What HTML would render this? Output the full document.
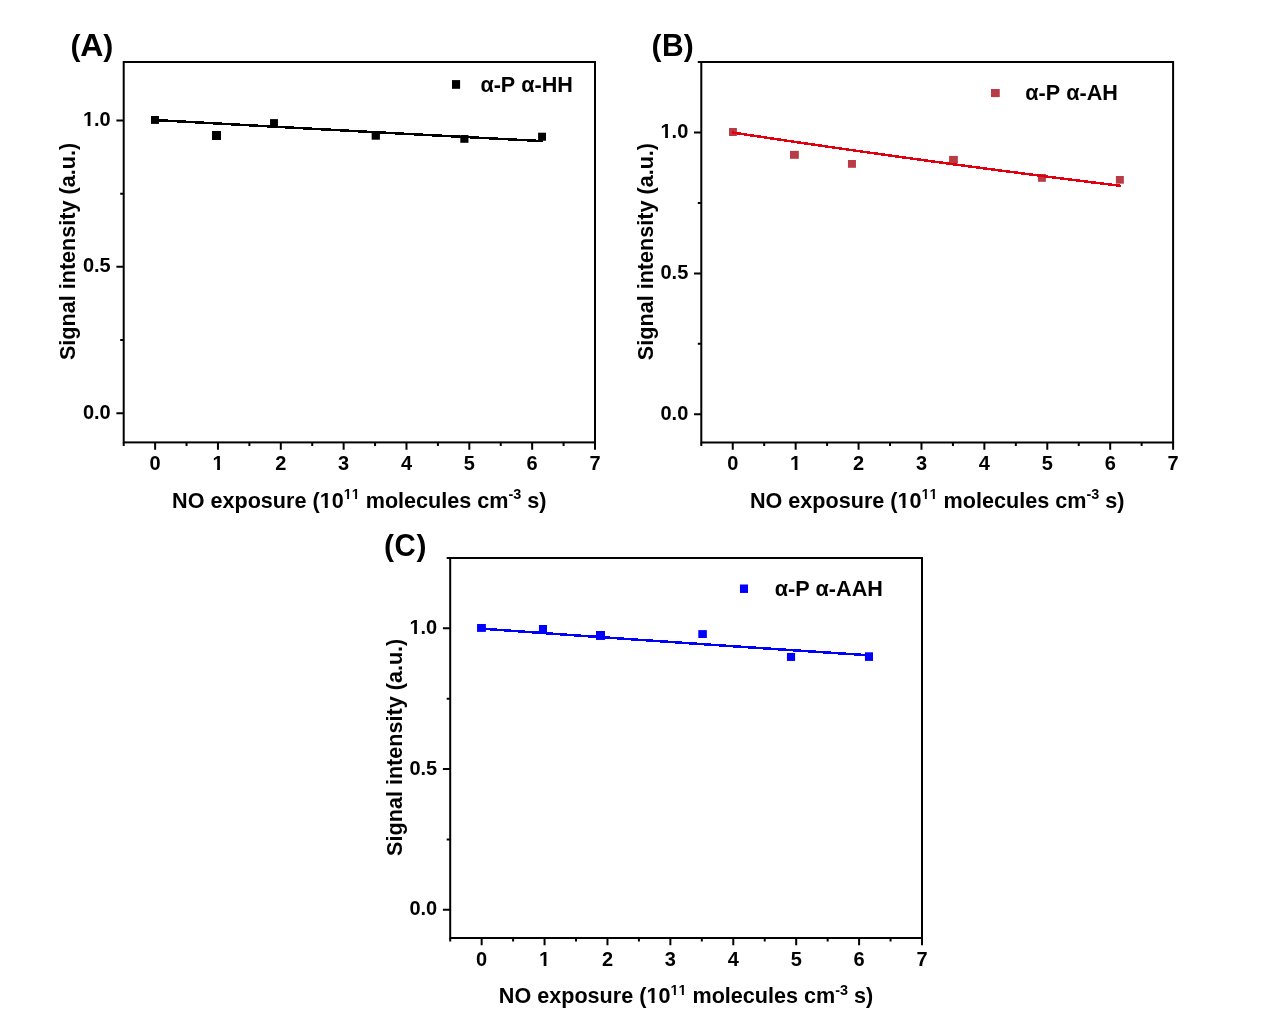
<!DOCTYPE html>
<html><head><meta charset="utf-8"><title>Signal intensity vs NO exposure</title>
<style>
html,body{margin:0;padding:0;background:#fff;}
svg{display:block;will-change:transform;}
text{font-family:"Liberation Sans", Arial, sans-serif;font-weight:bold;fill:#000;font-kerning:none;}
</style></head><body>
<svg width="1270" height="1028" viewBox="0 0 1270 1028">
<rect width="1270" height="1028" fill="#fff"/>
<g><rect x="123.7" y="62" width="471.3" height="380.4" fill="none" stroke="#000" stroke-width="2.0"/><path d="M123.7 442.4v3.5 M155.12 442.4v7.3 M186.54 442.4v3.5 M217.96 442.4v7.3 M249.38 442.4v3.5 M280.8 442.4v7.3 M312.22 442.4v3.5 M343.64 442.4v7.3 M375.06 442.4v3.5 M406.48 442.4v7.3 M437.9 442.4v3.5 M469.32 442.4v7.3 M500.74 442.4v3.5 M532.16 442.4v7.3 M563.58 442.4v3.5 M595 442.4v7.3 M123.7 413.138h-7.3 M123.7 339.985h-3.5 M123.7 266.831h-7.3 M123.7 193.677h-3.5 M123.7 120.523h-7.3" stroke="#000" stroke-width="2.0" fill="none"/><text transform="translate(149.558 470.3) scale(1 1.05)" font-size="20">0</text><text transform="translate(212.398 470.3) scale(1 1.05)" font-size="20">1</text><text transform="translate(275.238 470.3) scale(1 1.05)" font-size="20">2</text><text transform="translate(338.078 470.3) scale(1 1.05)" font-size="20">3</text><text transform="translate(400.918 470.3) scale(1 1.05)" font-size="20">4</text><text transform="translate(463.758 470.3) scale(1 1.05)" font-size="20">5</text><text transform="translate(526.598 470.3) scale(1 1.05)" font-size="20">6</text><text transform="translate(589.438 470.3) scale(1 1.05)" font-size="20">7</text><text transform="translate(82.897 418.738) scale(1 1.05)" font-size="20">0.0</text><text transform="translate(82.897 272.431) scale(1 1.05)" font-size="20">0.5</text><text transform="translate(82.897 126.123) scale(1 1.05)" font-size="20">1.0</text><text transform="translate(172.071 507.6)" font-size="21.6">NO exposure (10<tspan font-size="14.4" dy="-8.6">11</tspan><tspan dy="8.6"> molecules cm</tspan><tspan font-size="14.4" dy="-8.6">-3</tspan><tspan dy="8.6"> s)</tspan></text><text transform="translate(75.1 251.5) rotate(-90) scale(1 1.0)" text-anchor="middle" font-size="21.6">Signal intensity (a.u.)</text><rect x="151" y="116" width="7.95" height="7.9" fill="#000000"/><rect x="212" y="131" width="9" height="9" fill="#000000"/><rect x="270.05" y="119.1" width="7.9" height="8" fill="#000000"/><rect x="371.65" y="131.7" width="8.25" height="8" fill="#000000"/><rect x="460.3" y="135" width="8.15" height="7.8" fill="#000000"/><rect x="538.1" y="132.7" width="7.9" height="8" fill="#000000"/><polyline points="155.12,120.026 164.813,120.572 174.506,121.118 184.199,121.662 193.892,122.206 203.585,122.748 213.278,123.29 222.971,123.83 232.665,124.37 242.358,124.908 252.051,125.446 261.744,125.982 271.437,126.518 281.13,127.052 290.823,127.585 300.516,128.118 310.209,128.649 319.902,129.18 329.595,129.709 339.288,130.238 348.981,130.765 358.674,131.292 368.368,131.817 378.061,132.342 387.754,132.866 397.447,133.388 407.14,133.91 416.833,134.431 426.526,134.95 436.219,135.469 445.912,135.987 455.605,136.504 465.298,137.019 474.991,137.534 484.684,138.048 494.377,138.561 504.071,139.073 513.764,139.584 523.457,140.094 533.15,140.603 542.843,141.112" fill="none" stroke="#000000" stroke-width="2.5" stroke-linejoin="round" shape-rendering="crispEdges"/><rect x="452" y="80.1" width="8.1" height="8.7" fill="#000000"/><text transform="translate(480.4 92) scale(1 1.0)" font-size="21.6">α-P α-HH</text><text x="70.506" y="55.6" font-size="30">(</text><text transform="translate(80.283 55.6) scale(1.07 1.045)" font-size="30">A</text><text x="103.304" y="55.6" font-size="30">)</text></g>
<g><rect x="701.3" y="62" width="471.8" height="380.5" fill="none" stroke="#000" stroke-width="2.0"/><path d="M701.3 442.5v3.5 M732.753 442.5v7.3 M764.207 442.5v3.5 M795.66 442.5v7.3 M827.113 442.5v3.5 M858.567 442.5v7.3 M890.02 442.5v3.5 M921.473 442.5v7.3 M952.927 442.5v3.5 M984.38 442.5v7.3 M1015.833 442.5v3.5 M1047.287 442.5v7.3 M1078.74 442.5v3.5 M1110.193 442.5v7.3 M1141.647 442.5v3.5 M1173.1 442.5v7.3 M701.3 414.315h-7.3 M701.3 343.852h-3.5 M701.3 273.389h-7.3 M701.3 202.926h-3.5 M701.3 132.463h-7.3 M701.3 62h-3.5" stroke="#000" stroke-width="2.0" fill="none"/><text transform="translate(727.192 470.4) scale(1 1.05)" font-size="20">0</text><text transform="translate(790.098 470.4) scale(1 1.05)" font-size="20">1</text><text transform="translate(853.005 470.4) scale(1 1.05)" font-size="20">2</text><text transform="translate(915.912 470.4) scale(1 1.05)" font-size="20">3</text><text transform="translate(978.818 470.4) scale(1 1.05)" font-size="20">4</text><text transform="translate(1041.725 470.4) scale(1 1.05)" font-size="20">5</text><text transform="translate(1104.632 470.4) scale(1 1.05)" font-size="20">6</text><text transform="translate(1167.538 470.4) scale(1 1.05)" font-size="20">7</text><text transform="translate(660.497 419.915) scale(1 1.05)" font-size="20">0.0</text><text transform="translate(660.497 278.989) scale(1 1.05)" font-size="20">0.5</text><text transform="translate(660.497 138.063) scale(1 1.05)" font-size="20">1.0</text><text transform="translate(749.921 507.7)" font-size="21.6">NO exposure (10<tspan font-size="14.4" dy="-8.6">11</tspan><tspan dy="8.6"> molecules cm</tspan><tspan font-size="14.4" dy="-8.6">-3</tspan><tspan dy="8.6"> s)</tspan></text><text transform="translate(652.7 251.55) rotate(-90) scale(1 1.0)" text-anchor="middle" font-size="21.6">Signal intensity (a.u.)</text><rect x="729" y="128" width="7.9" height="8" fill="#B83C46"/><rect x="790" y="150.85" width="8.85" height="7.95" fill="#B83C46"/><rect x="847.95" y="160" width="8" height="7.8" fill="#B83C46"/><rect x="949.1" y="155.9" width="8.75" height="7.8" fill="#B83C46"/><rect x="1038" y="174" width="7.9" height="7.8" fill="#B83C46"/><rect x="1115.9" y="176" width="7.95" height="7.7" fill="#B83C46"/><polyline points="732.124,132.467 741.851,133.945 751.578,135.416 761.305,136.879 771.032,138.334 780.759,139.782 790.486,141.222 800.213,142.654 809.94,144.079 819.667,145.497 829.394,146.907 839.121,148.31 848.848,149.705 858.575,151.093 868.301,152.474 878.028,153.847 887.755,155.213 897.482,156.572 907.209,157.924 916.936,159.269 926.663,160.607 936.39,161.938 946.117,163.262 955.844,164.579 965.571,165.889 975.298,167.192 985.025,168.488 994.752,169.778 1004.479,171.06 1014.206,172.336 1023.933,173.606 1033.66,174.868 1043.386,176.125 1053.113,177.374 1062.84,178.617 1072.567,179.853 1082.294,181.083 1092.021,182.307 1101.748,183.524 1111.475,184.734 1121.202,185.939" fill="none" stroke="#E00010" stroke-width="2.5" stroke-linejoin="round" shape-rendering="crispEdges"/><rect x="991" y="89" width="8.75" height="8.1" fill="#B83C46"/><text transform="translate(1025.3 100) scale(1 1.0)" font-size="21.6">α-P α-AH</text><text x="651.406" y="55.7" font-size="30">(</text><text transform="translate(661.895 55.7) scale(1.0 1.045)" font-size="30">B</text><text x="683.804" y="55.7" font-size="30">)</text></g>
<g><rect x="450.2" y="558" width="471.8" height="380" fill="none" stroke="#000" stroke-width="2.0"/><path d="M450.2 938v3.5 M481.653 938v7.3 M513.107 938v3.5 M544.56 938v7.3 M576.013 938v3.5 M607.467 938v7.3 M638.92 938v3.5 M670.373 938v7.3 M701.827 938v3.5 M733.28 938v7.3 M764.733 938v3.5 M796.187 938v7.3 M827.64 938v3.5 M859.093 938v7.3 M890.547 938v3.5 M922 938v7.3 M450.2 909.852h-7.3 M450.2 839.481h-3.5 M450.2 769.111h-7.3 M450.2 698.741h-3.5 M450.2 628.37h-7.3 M450.2 558h-3.5" stroke="#000" stroke-width="2.0" fill="none"/><text transform="translate(476.092 965.9) scale(1 1.05)" font-size="20">0</text><text transform="translate(538.998 965.9) scale(1 1.05)" font-size="20">1</text><text transform="translate(601.905 965.9) scale(1 1.05)" font-size="20">2</text><text transform="translate(664.812 965.9) scale(1 1.05)" font-size="20">3</text><text transform="translate(727.718 965.9) scale(1 1.05)" font-size="20">4</text><text transform="translate(790.625 965.9) scale(1 1.05)" font-size="20">5</text><text transform="translate(853.532 965.9) scale(1 1.05)" font-size="20">6</text><text transform="translate(916.438 965.9) scale(1 1.05)" font-size="20">7</text><text transform="translate(409.397 915.452) scale(1 1.05)" font-size="20">0.0</text><text transform="translate(409.397 774.711) scale(1 1.05)" font-size="20">0.5</text><text transform="translate(409.397 633.97) scale(1 1.05)" font-size="20">1.0</text><text transform="translate(498.821 1003.2)" font-size="21.6">NO exposure (10<tspan font-size="14.4" dy="-8.6">11</tspan><tspan dy="8.6"> molecules cm</tspan><tspan font-size="14.4" dy="-8.6">-3</tspan><tspan dy="8.6"> s)</tspan></text><text transform="translate(401.6 747.3) rotate(-90) scale(1 1.0)" text-anchor="middle" font-size="21.6">Signal intensity (a.u.)</text><rect x="477.05" y="624" width="8.85" height="7.9" fill="#0000FF"/><rect x="538.95" y="625" width="8.05" height="8" fill="#0000FF"/><rect x="596" y="631" width="9" height="8.95" fill="#0000FF"/><rect x="698.3" y="630.1" width="8.55" height="7.9" fill="#0000FF"/><rect x="786.95" y="652.95" width="8.15" height="8" fill="#0000FF"/><rect x="864.95" y="652.3" width="8.05" height="8.6" fill="#0000FF"/><polyline points="481.653,628.67 491.361,629.37 501.069,630.067 510.778,630.763 520.486,631.457 530.194,632.15 539.902,632.841 549.61,633.53 559.318,634.217 569.026,634.903 578.734,635.586 588.442,636.269 598.15,636.949 607.858,637.628 617.566,638.305 627.274,638.981 636.982,639.654 646.691,640.326 656.399,640.997 666.107,641.666 675.815,642.333 685.523,642.998 695.231,643.662 704.939,644.324 714.647,644.984 724.355,645.643 734.063,646.3 743.771,646.956 753.479,647.61 763.187,648.262 772.895,648.913 782.604,649.562 792.312,650.21 802.02,650.855 811.728,651.5 821.436,652.142 831.144,652.783 840.852,653.423 850.56,654.061 860.268,654.697 869.976,655.332" fill="none" stroke="#0000FF" stroke-width="2.5" stroke-linejoin="round" shape-rendering="crispEdges"/><rect x="739.95" y="584.5" width="8.05" height="8.45" fill="#0000FF"/><text transform="translate(774.7 595.8) scale(1 1.0)" font-size="21.6">α-P α-AAH</text><text x="384.106" y="555.7" font-size="30">(</text><text transform="translate(394.383 555.7) scale(0.98 1.07)" font-size="30">C</text><text x="416.504" y="555.7" font-size="30">)</text></g>
<g fill="#fff"><rect x="212.76" y="468" width="4.408" height="3"/><rect x="219.912" y="468" width="4.154" height="3"/><rect x="83.26" y="124" width="4.408" height="3"/><rect x="90.412" y="124" width="4.154" height="3"/><rect x="320.111" y="505" width="4.681" height="4"/><rect x="327.755" y="505" width="4.407" height="4"/><rect x="343.657" y="497" width="3.454" height="3"/><rect x="349.087" y="497" width="3.271" height="3"/><rect x="351.657" y="497" width="3.454" height="3"/><rect x="357.087" y="497" width="3.271" height="3"/><rect x="790.26" y="468" width="4.408" height="3"/><rect x="797.412" y="468" width="4.154" height="3"/><rect x="660.76" y="136" width="4.408" height="3"/><rect x="667.912" y="136" width="4.154" height="3"/><rect x="897.861" y="505" width="4.681" height="4"/><rect x="905.505" y="505" width="4.407" height="4"/><rect x="921.407" y="497" width="3.454" height="3"/><rect x="926.837" y="497" width="3.271" height="3"/><rect x="929.407" y="497" width="3.454" height="3"/><rect x="934.837" y="497" width="3.271" height="3"/><rect x="539.26" y="964" width="4.408" height="3"/><rect x="546.412" y="964" width="4.154" height="3"/><rect x="409.76" y="632" width="4.408" height="3"/><rect x="416.912" y="632" width="4.154" height="3"/><rect x="646.861" y="1000" width="4.681" height="4"/><rect x="654.505" y="1000" width="4.407" height="4"/><rect x="670.407" y="993" width="3.454" height="3"/><rect x="675.837" y="993" width="3.271" height="3"/><rect x="678.407" y="993" width="3.454" height="3"/><rect x="683.837" y="993" width="3.271" height="3"/></g>
</svg>
</body></html>
